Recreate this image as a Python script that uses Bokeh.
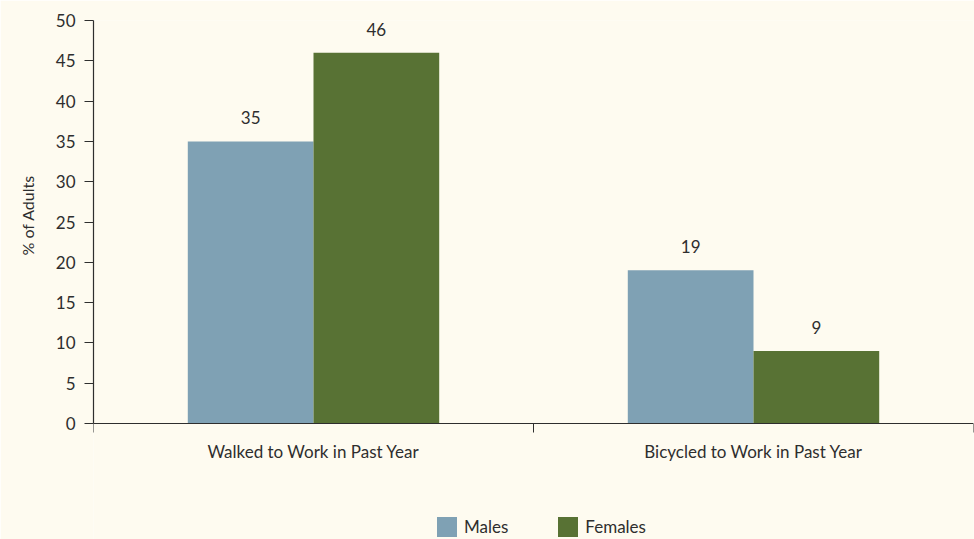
from bokeh.plotting import figure
from bokeh.models import (ColumnDataSource, FixedTicker, Range1d, Legend, LegendItem,
                          LabelSet, LinearAxis, Title)
from bokeh.core.properties import value
from bokeh.embed import file_html
from bokeh.resources import INLINE

categories = ["Walked to Work in Past Year", "Bicycled to Work in Past Year"]
males = [35, 19]
females = [46, 9]
series = ["Males", "Females"]
y_ticks = [0, 5, 10, 15, 20, 25, 30, 35, 40, 45, 50]
y_title = "% of Adults"

BG = "#fefbf0"
TXT = "#2e2e2e"
C_M = "#7fa1b4"
C_F = "#587234"
FONT = "Lato"

# layout: value axis 0..50 drawn over 403 px, frame extends 116 px below zero
Y_TOP = 50
Y_BOTTOM = -116 * Y_TOP / 403.0

n = len(categories)
bw = 0.2857
centers = [i + 0.5 for i in range(n)]
src_m = ColumnDataSource(dict(x=[c - bw / 2 for c in centers], top=males, lab=[str(v) for v in males]))
src_f = ColumnDataSource(dict(x=[c + bw / 2 for c in centers], top=females, lab=[str(v) for v in females]))

p = figure(width=974, height=539, output_backend="svg", toolbar_location=None,
           x_range=Range1d(0, n), y_range=Range1d(Y_BOTTOM, Y_TOP),
           x_axis_location=None,
           min_border_left=93, min_border_right=1, min_border_top=20, min_border_bottom=0)
p.background_fill_color = BG
p.border_fill_color = BG
p.outline_line_color = None
p.grid.grid_line_color = None

rm = p.vbar(x="x", bottom=0, top="top", width=bw, source=src_m, fill_color=C_M, line_color=None)
rf = p.vbar(x="x", bottom=0, top="top", width=bw, source=src_f, fill_color=C_F, line_color=None)

for src in (src_m, src_f):
    p.add_layout(LabelSet(x="x", y="top", text="lab", source=src, text_align="center",
                          text_baseline="bottom", y_offset=17, text_font=value(FONT),
                          text_font_size=value("17px"), text_color=TXT))

# x axis at value 0
xa = LinearAxis(fixed_location=0)
xa.ticker = FixedTicker(ticks=centers, minor_ticks=list(range(n + 1)))
xa.major_label_overrides = {c: categories[i] for i, c in enumerate(centers)}
xa.major_tick_out = 0
xa.major_tick_in = 0
xa.minor_tick_out = 9
xa.minor_tick_in = 0
xa.minor_tick_line_color = TXT
xa.axis_line_color = TXT
xa.axis_line_width = 1.2
xa.major_label_standoff = 8
xa.major_label_text_font = FONT
xa.major_label_text_font_size = "17px"
xa.major_label_text_color = TXT
p.add_layout(xa, "below")

# y axis
ya = p.yaxis[0]
ya.ticker = FixedTicker(ticks=y_ticks)
ya.bounds = (0, Y_TOP)
ya.minor_tick_line_color = None
ya.major_tick_out = 9
ya.major_tick_in = 0
ya.major_tick_line_color = TXT
ya.axis_line_color = TXT
ya.axis_line_width = 1.2
ya.major_label_standoff = 9
ya.major_label_text_font = FONT
ya.major_label_text_font_size = "17px"
ya.major_label_text_color = TXT

# y-axis title, placed in the left panel beside the 0..50 span
p.add_layout(Title(text=y_title, align="left", offset=284, standoff=31,
                   text_font=FONT, text_font_size="16px", text_font_style="normal",
                   text_color=TXT), "left")

legend = Legend(items=[LegendItem(label=series[0], renderers=[rm]),
                       LegendItem(label=series[1], renderers=[rf])],
                orientation="horizontal", location=(341, 0),
                glyph_width=25, glyph_height=25, label_standoff=5, spacing=47,
                padding=0, margin=0, border_line_color=None, background_fill_alpha=0,
                label_text_font=FONT, label_text_font_size="17px", label_text_color=TXT)
p.add_layout(legend, "center")

open("out.html", "w").write(file_html(p, INLINE))
